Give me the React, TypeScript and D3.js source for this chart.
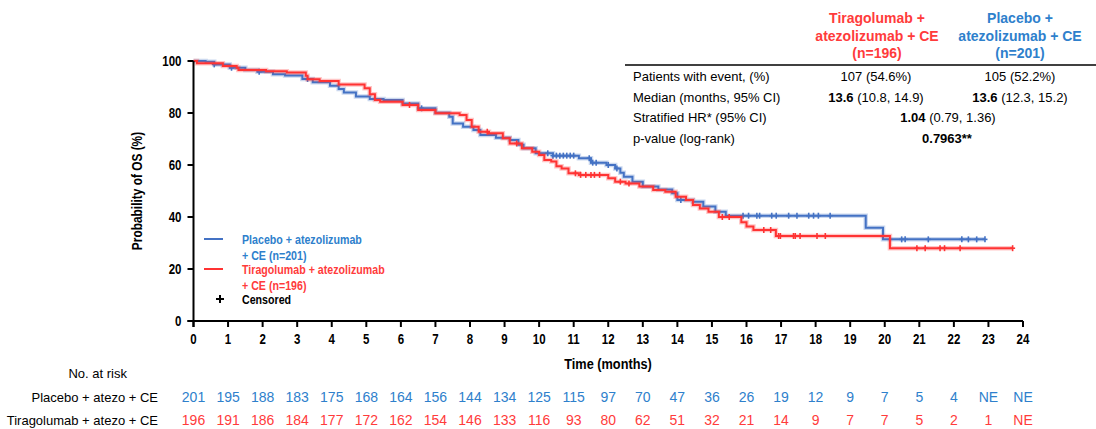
import React from "react";
import * as d3 from "d3";

// Kaplan–Meier step drops: [month, survival %]
const placeboSteps: [number, number][] = [
  [0.35, 99.7], [0.6, 98.7], [1.05, 97.4], [1.5, 96.5], [1.85, 95.9], [2.3, 94.9],
  [2.65, 94.4], [3.15, 93.1], [3.45, 91.8], [3.95, 90.5], [4.2, 89.2], [4.35, 87.9],
  [4.7, 86.3], [5.1, 85.4], [5.5, 85.0], [6.05, 83.7], [6.5, 81.8], [7.0, 80.1],
  [7.4, 78.6], [7.5, 76.0], [7.8, 74.7], [8.1, 73.5], [8.3, 71.5], [8.75, 70.5],
  [9.15, 69.6], [9.4, 67.8], [9.55, 66.4], [9.9, 64.5], [10.4, 63.6], [11.15, 62.6],
  [11.5, 60.9], [11.95, 60.0], [12.2, 58.7], [12.35, 57.0], [12.45, 55.5], [12.7, 53.6],
  [13.0, 51.7], [13.45, 50.6], [13.85, 49.1], [14.0, 46.5], [14.45, 45.9], [14.75, 44.0],
  [15.1, 42.0], [15.4, 40.5], [19.45, 35.9], [19.95, 31.4],
];
const placeboEnd = 22.9;
const placeboCensored = [
  0.6, 1.1, 1.9, 3.3, 6.6, 10.25, 10.4, 10.5, 10.6, 10.7, 10.8, 10.9, 11.0, 11.45, 11.55,
  11.65, 12.0, 12.25, 14.1, 15.9, 16.06, 16.3, 16.38, 16.73, 16.86, 17.22, 17.46, 17.8,
  17.94, 18.08, 18.42, 20.49, 20.59, 21.26, 22.23, 22.42, 22.66, 22.9,
];

const tiraSteps: [number, number][] = [
  [0.1, 99.1], [0.85, 98.1], [1.25, 97.4], [1.3, 96.5], [2.1, 96.1], [2.7, 95.6],
  [3.25, 94.3], [3.3, 93.0], [3.65, 92.3], [4.2, 91.0], [4.95, 89.5], [5.1, 87.2],
  [5.25, 85.0], [5.4, 84.3], [6.05, 83.1], [6.5, 81.2], [7.0, 79.9], [7.7, 79.2],
  [7.9, 77.3], [8.05, 74.7], [8.25, 72.8], [8.55, 72.2], [8.95, 70.3], [9.15, 68.3],
  [9.5, 66.4], [9.8, 65.1], [10.0, 63.8], [10.15, 61.9], [10.35, 61.3], [10.5, 59.5],
  [10.65, 58.7], [10.85, 56.8], [11.15, 56.2], [12.0, 54.9], [12.2, 53.6], [12.5, 52.9],
  [12.9, 51.7], [13.3, 50.4], [13.65, 49.7], [13.95, 47.8], [14.25, 46.5], [14.45, 44.6],
  [14.65, 43.3], [14.9, 42.0], [15.2, 40.0], [15.85, 38.0], [16.0, 36.3], [16.2, 35.0],
  [16.85, 32.7], [20.15, 28.0],
];
const tiraEnd = 23.7;
const tiraCensored = [
  6.25, 8.5, 9.35, 11.05, 11.2, 11.35, 11.5, 11.6, 11.75, 12.35, 12.6, 15.3, 15.5, 16.5,
  16.7, 16.93, 16.98, 17.36, 17.41, 17.55, 18.04, 18.28, 20.93, 21.17, 21.6, 21.73,
  22.18, 23.7,
];

const xTicks = d3.range(0, 25);
const yTicks = [0, 20, 40, 60, 80, 100];

const placeboRisk = ["201", "195", "188", "183", "175", "168", "164", "156", "144", "134", "125", "115", "97", "70", "47", "36", "26", "19", "12", "9", "7", "5", "4", "NE", "NE"];
const tiraRisk = ["196", "191", "186", "184", "177", "172", "162", "154", "146", "133", "116", "93", "80", "62", "51", "32", "21", "14", "9", "7", "7", "5", "2", "1", "NE"];

const tableRows = [
  { label: "Patients with event, (%)", a: ["", "107 (54.6%)"], b: ["", "105 (52.2%)"] },
  { label: "Median (months, 95% CI)", a: ["13.6", " (10.8, 14.9)"], b: ["13.6", " (12.3, 15.2)"] },
];
const hrRow = { label: "Stratified HR* (95% CI)", bold: "1.04", rest: " (0.79, 1.36)" };
const pRow = { label: "p-value (log-rank)", bold: "0.7963**", rest: "" };

const BLUE = "#4472C4";
const RED = "#FF3333";
const BLUE_TXT = "#2E80CC";
const RED_TXT = "#FF3B3B";
const SANS = "'Liberation Sans', Arial, sans-serif";

const x = d3.scaleLinear().domain([0, 24]).range([193.5, 1023]);
const y = d3.scaleLinear().domain([0, 100]).range([321, 61]);

function survivalAt(steps: [number, number][], t: number) {
  let p = 100;
  for (const [st, sp] of steps) if (st <= t) p = sp;
  return p;
}

function kmPath(steps: [number, number][], end: number) {
  const pts: [number, number][] = [[0, 100], ...steps, [end, steps[steps.length - 1][1]]];
  return d3
    .line<[number, number]>()
    .x((d) => x(d[0]))
    .y((d) => y(d[1]))
    .curve(d3.curveStepAfter)(pts) as string;
}

// Bold text horizontally condensed (narrow face look)
function Narrow({
  x: px, y: py, anchor = "start", size = 13, fill = "#000", rotate = 0, sx = 0.82, children,
}: {
  x: number; y: number; anchor?: string; size?: number; fill?: string; rotate?: number; sx?: number; children: React.ReactNode;
}) {
  return (
    <g transform={`translate(${px},${py}) rotate(${rotate}) scale(${sx},1)`}>
      <text
        fontFamily={SANS}
        fontWeight="bold"
        fontSize={size}
        fill={fill}
        textAnchor={anchor as any}
        dy="0.35em"
      >
        {children}
      </text>
    </g>
  );
}

function Curve({ steps, end, censored, color }: { steps: [number, number][]; end: number; censored: number[]; color: string }) {
  const d = kmPath(steps, end);
  return (
    <g>
      <path d={d} fill="none" stroke={color} strokeWidth={4.5} strokeOpacity={0.28} />
      <path d={d} fill="none" stroke={color} strokeWidth={2} />
      {censored.map((t, i) => {
        const cx = x(t);
        const cy = y(survivalAt(steps, t));
        return (
          <g key={i} stroke={color} strokeWidth={1.6}>
            <line x1={cx} x2={cx} y1={cy - 3} y2={cy + 3} />
            <line x1={cx - 2.5} x2={cx + 2.5} y1={cy} y2={cy} />
          </g>
        );
      })}
    </g>
  );
}

export default function App() {
  return (
    <svg
      width={1096}
      height={429}
      style={{ position: "absolute", left: 0, top: 0, background: "#fff" }}
    >
      <rect width={1096} height={429} fill="#fff" />

      {/* Summary table */}
      <g fontFamily={SANS} fontWeight="bold" fontSize={14} textAnchor="middle">
        <g fill={RED_TXT}>
          <text x={877} y={23}>Tiragolumab +</text>
          <text x={877} y={41}>atezolizumab + CE</text>
          <text x={877} y={58}>(n=196)</text>
        </g>
        <g fill={BLUE_TXT}>
          <text x={1020} y={23}>Placebo +</text>
          <text x={1020} y={41}>atezolizumab + CE</text>
          <text x={1020} y={58}>(n=201)</text>
        </g>
      </g>
      <line x1={625} x2={1096} y1={65} y2={65} stroke="#000" strokeWidth={1.5} />
      <g fontFamily={SANS} fontSize={13} fill="#000">
        {tableRows.map((r, i) => (
          <g key={i}>
            <text x={633} y={81 + i * 20.5}>{r.label}</text>
            <text x={876} y={81 + i * 20.5} textAnchor="middle">
              <tspan fontWeight="bold">{r.a[0]}</tspan>
              <tspan>{r.a[1]}</tspan>
            </text>
            <text x={1020} y={81 + i * 20.5} textAnchor="middle">
              <tspan fontWeight="bold">{r.b[0]}</tspan>
              <tspan>{r.b[1]}</tspan>
            </text>
          </g>
        ))}
        <text x={633} y={122}>{hrRow.label}</text>
        <text x={948} y={122} textAnchor="middle">
          <tspan fontWeight="bold">{hrRow.bold}</tspan>
          <tspan>{hrRow.rest}</tspan>
        </text>
        <text x={633} y={142.5}>{pRow.label}</text>
        <text x={947} y={142.5} textAnchor="middle" fontWeight="bold">{pRow.bold}</text>
      </g>

      {/* Curves */}
      <Curve steps={placeboSteps} end={placeboEnd} censored={placeboCensored} color={BLUE} />
      <Curve steps={tiraSteps} end={tiraEnd} censored={tiraCensored} color={RED} />

      {/* Axes */}
      <g stroke="#000" strokeWidth={2}>
        <line x1={x(0)} x2={x(0)} y1={y(100)} y2={y(0) + 6} />
        <line x1={x(0) - 6} x2={x(24)} y1={y(0)} y2={y(0)} />
        {yTicks.map((t) => (
          <line key={t} x1={x(0) - 6} x2={x(0)} y1={y(t)} y2={y(t)} />
        ))}
        {xTicks.map((t) => (
          <line key={t} x1={x(t)} x2={x(t)} y1={y(0)} y2={y(0) + 6} />
        ))}
      </g>
      {yTicks.map((t) => (
        <Narrow key={t} x={x(0) - 12} y={y(t)} anchor="end" size={14}>{t}</Narrow>
      ))}
      {xTicks.map((t) => (
        <Narrow key={t} x={x(t)} y={339} anchor="middle" size={14}>{t}</Narrow>
      ))}
      <Narrow x={608} y={364} anchor="middle" size={15} sx={0.85}>Time (months)</Narrow>
      <Narrow x={137} y={191} anchor="middle" size={14} sx={0.85} rotate={-90}>
        Probability of OS (%)
      </Narrow>

      {/* Legend */}
      <line x1={204} x2={223} y1={239} y2={239} stroke={BLUE} strokeWidth={2} />
      <Narrow x={242} y={239} fill={BLUE_TXT}>Placebo + atezolizumab</Narrow>
      <Narrow x={242} y={255} fill={BLUE_TXT}>+ CE (n=201)</Narrow>
      <line x1={204} x2={223} y1={269} y2={269} stroke={RED} strokeWidth={2} />
      <Narrow x={242} y={269} fill={RED_TXT}>Tiragolumab + atezolizumab</Narrow>
      <Narrow x={242} y={285} fill={RED_TXT}>+ CE (n=196)</Narrow>
      <g stroke="#000" strokeWidth={2}>
        <line x1={216} x2={224} y1={299} y2={299} />
        <line x1={220} x2={220} y1={295} y2={303} />
      </g>
      <Narrow x={242} y={299}>Censored</Narrow>

      {/* Number at risk */}
      <g fontFamily={SANS} fontSize={13} fill="#000">
        <text x={127} y={373} dy="0.35em" textAnchor="end">No. at risk</text>
        <text x={158} y={397} dy="0.35em" textAnchor="end">Placebo + atezo + CE</text>
        <text x={158} y={420} dy="0.35em" textAnchor="end">Tiragolumab + atezo + CE</text>
      </g>
      <g fontFamily={SANS} fontSize={14} textAnchor="middle">
        {placeboRisk.map((v, i) => (
          <text key={i} x={x(xTicks[i])} y={397} dy="0.35em" fill={BLUE_TXT}>{v}</text>
        ))}
        {tiraRisk.map((v, i) => (
          <text key={i} x={x(xTicks[i])} y={420} dy="0.35em" fill={RED_TXT}>{v}</text>
        ))}
      </g>
    </svg>
  );
}
